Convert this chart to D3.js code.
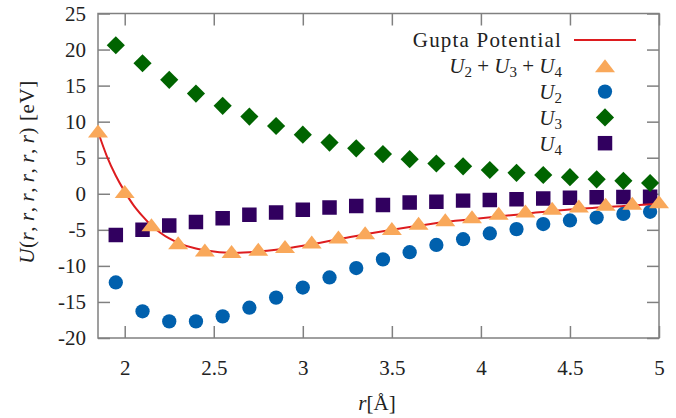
<!DOCTYPE html>
<html>
<head>
<meta charset="utf-8">
<script src="https://cdn.jsdelivr.net/npm/d3@7"></script>
<style>
  body { margin: 0; background: #fff; }
  text { font-family: "Liberation Serif", "DejaVu Serif", serif; fill: #222; }
</style>
</head>
<body>
<div id="chart"></div>
<script>
// data
var rPart = [1.95, 2.1, 2.25, 2.4, 2.55, 2.7, 2.85, 3.0, 3.15, 3.3, 3.45, 3.6, 3.75, 3.9, 4.05, 4.2, 4.35, 4.5, 4.65, 4.8, 4.95];
var u2 = [-12.3, -16.3, -17.7, -17.7, -17.0, -15.8, -14.4, -13.0, -11.6, -10.3, -9.1, -8.1, -7.1, -6.3, -5.5, -4.9, -4.2, -3.7, -3.3, -2.8, -2.5];
var u3 = [20.6, 18.1, 15.8, 13.9, 12.2, 10.7, 9.4, 8.2, 7.1, 6.3, 5.5, 4.8, 4.2, 3.8, 3.3, 2.9, 2.6, 2.3, 2.0, 1.8, 1.5];
var u4 = [-5.7, -5.0, -4.4, -3.9, -3.4, -2.9, -2.6, -2.2, -1.9, -1.7, -1.55, -1.2, -1.1, -0.95, -0.86, -0.77, -0.67, -0.54, -0.49, -0.44, -0.4];

var rSum = [1.85, 2.0, 2.15, 2.3, 2.45, 2.6, 2.75, 2.9, 3.05, 3.2, 3.35, 3.5, 3.65, 3.8, 3.95, 4.1, 4.25, 4.4, 4.55, 4.7, 4.85, 5.0];
var uSum = [8.7, 0.3, -4.3, -6.8, -7.8, -8.0, -7.7, -7.3, -6.7, -6.0, -5.4, -4.8, -4.1, -3.6, -3.2, -2.7, -2.4, -2.0, -1.7, -1.46, -1.3, -1.1];

var rGupta = [1.85, 1.9, 1.95, 2.0, 2.05, 2.1, 2.15, 2.2, 2.25, 2.3, 2.4, 2.5, 2.6, 2.7, 2.8, 2.9, 3.0, 3.2, 3.4, 3.6, 3.8, 4.0, 4.2, 4.4, 4.6, 4.8, 5.0];
var uGupta = [8.6, 5.2, 2.5, 0.3, -1.6, -3.1, -4.4, -5.4, -6.2, -6.8, -7.6, -8.0, -8.2, -8.1, -7.9, -7.6, -7.2, -6.3, -5.4, -4.6, -3.9, -3.4, -2.9, -2.4, -2.0, -1.7, -1.4];

var xTicks = [2, 2.5, 3, 3.5, 4, 4.5, 5];
var yTicks = [-20, -15, -10, -5, 0, 5, 10, 15, 20, 25];

var AXIS_COLOR = '#808080';
var GUPTA_COLOR = '#dd1c1f';
var SUM_COLOR = '#f9a85a';
var U2_COLOR = '#0060ad';
var U3_COLOR = '#006400';
var U4_COLOR = '#31005f';
var FONT = "21px";

var width = 676, height = 418;
var plot = { left: 98, right: 659, top: 13.5, bottom: 338 };

var svg = d3.select("#chart").append("svg")
  .attr("width", width)
  .attr("height", height);

var x = d3.scaleLinear().domain([1.85, 5]).range([plot.left, plot.right]);
var y = d3.scaleLinear().domain([-20, 25]).range([plot.bottom, plot.top]);

// flat triangle like gnuplot's
var flatTriangle = {
  draw: function(ctx, size) {
    ctx.moveTo(0, -6.5);
    ctx.lineTo(10, 6.5);
    ctx.lineTo(-10, 6.5);
    ctx.closePath();
  }
};

// plain hyphen for negatives, like the original
var fmt = function(d) { return String(d); };

// axes, ticks point inward
function styleAxis(g) {
  g.select(".domain").remove();
  g.selectAll(".tick line").attr("stroke", AXIS_COLOR).attr("stroke-width", 1.5);
  g.selectAll(".tick text").attr("font-size", FONT).attr("fill", "#222")
    .attr("font-family", "Liberation Serif, serif");
}

svg.append("g")
  .attr("transform", `translate(0,${plot.bottom})`)
  .call(d3.axisBottom(x).tickValues(xTicks).tickSizeInner(-12).tickSizeOuter(0).tickPadding(22).tickFormat(fmt))
  .call(styleAxis);

svg.append("g")
  .attr("transform", `translate(0,${plot.top})`)
  .call(d3.axisTop(x).tickValues(xTicks).tickSizeInner(-12).tickSizeOuter(0).tickFormat(""))
  .call(styleAxis);

svg.append("g")
  .attr("transform", `translate(${plot.left},0)`)
  .call(d3.axisLeft(y).tickValues(yTicks).tickSizeInner(-12).tickSizeOuter(0).tickPadding(12).tickFormat(fmt))
  .call(styleAxis);

svg.append("g")
  .attr("transform", `translate(${plot.right},0)`)
  .call(d3.axisRight(y).tickValues(yTicks).tickSizeInner(-12).tickSizeOuter(0).tickFormat(""))
  .call(styleAxis);

svg.append("rect")
  .attr("x", plot.left).attr("y", plot.top)
  .attr("width", plot.right - plot.left).attr("height", plot.bottom - plot.top)
  .attr("fill", "none").attr("stroke", AXIS_COLOR).attr("stroke-width", 1.5);

svg.append("defs").append("clipPath").attr("id", "clip")
  .append("rect")
  .attr("x", plot.left - 12).attr("y", plot.top)
  .attr("width", plot.right - plot.left + 24).attr("height", plot.bottom - plot.top);

var marks = svg.append("g").attr("clip-path", "url(#clip)");

// U4 squares
marks.append("g").selectAll("path")
  .data(rPart.map((r, i) => [r, u4[i]]))
  .enter().append("path")
  .attr("transform", d => `translate(${x(d[0])},${y(d[1])})`)
  .attr("d", d3.symbol(d3.symbolSquare, 210))
  .attr("fill", U4_COLOR);

// U3 diamonds
marks.append("g").selectAll("path")
  .data(rPart.map((r, i) => [r, u3[i]]))
  .enter().append("path")
  .attr("transform", d => `translate(${x(d[0])},${y(d[1])}) rotate(45)`)
  .attr("d", d3.symbol(d3.symbolSquare, 165))
  .attr("fill", U3_COLOR);

// U2 circles
marks.append("g").selectAll("path")
  .data(rPart.map((r, i) => [r, u2[i]]))
  .enter().append("path")
  .attr("transform", d => `translate(${x(d[0])},${y(d[1])})`)
  .attr("d", d3.symbol(d3.symbolCircle, 160))
  .attr("fill", U2_COLOR);

// Gupta line
var line = d3.line()
  .x(d => x(d[0]))
  .y(d => y(d[1]))
  .curve(d3.curveMonotoneX);

marks.append("path")
  .datum(rGupta.map((r, i) => [r, uGupta[i]]))
  .attr("d", line)
  .attr("fill", "none")
  .attr("stroke", GUPTA_COLOR)
  .attr("stroke-width", 2);

// U2+U3+U4 triangles
marks.append("g").selectAll("path")
  .data(rSum.map((r, i) => [r, uSum[i]]))
  .enter().append("path")
  .attr("transform", d => `translate(${x(d[0])},${y(d[1])})`)
  .attr("d", d3.symbol(flatTriangle))
  .attr("fill", SUM_COLOR);

// legend
var legendX = 562, legendMarkX = 605, legendY0 = 40, legendStep = 25.8;
var legend = svg.append("g").attr("font-size", FONT);

function addMath(t, parts) {
  parts.forEach(function(p) {
    var ts = t.append("tspan").text(p.t);
    if (p.i) ts.attr("font-style", "italic");
    if (p.sub) ts.attr("font-size", "15px").attr("baseline-shift", "-4px");
  });
}

legend.append("text")
  .attr("x", legendX).attr("y", legendY0).attr("dy", "0.35em")
  .attr("text-anchor", "end").attr("letter-spacing", "1.2px")
  .text("Gupta Potential");
legend.append("line")
  .attr("x1", 574).attr("x2", 636)
  .attr("y1", legendY0).attr("y2", legendY0)
  .attr("stroke", GUPTA_COLOR).attr("stroke-width", 2);

var t1 = legend.append("text").attr("x", legendX).attr("y", legendY0 + legendStep).attr("dy", "0.35em").attr("text-anchor", "end");
addMath(t1, [{t: "U", i: true}, {t: "2", sub: true}, {t: " + "}, {t: "U", i: true}, {t: "3", sub: true}, {t: " + "}, {t: "U", i: true}, {t: "4", sub: true}]);
legend.append("path")
  .attr("transform", `translate(${legendMarkX},${legendY0 + legendStep})`)
  .attr("d", d3.symbol(flatTriangle)).attr("fill", SUM_COLOR);

var t2 = legend.append("text").attr("x", legendX).attr("y", legendY0 + 2 * legendStep).attr("dy", "0.35em").attr("text-anchor", "end");
addMath(t2, [{t: "U", i: true}, {t: "2", sub: true}]);
legend.append("path")
  .attr("transform", `translate(${legendMarkX},${legendY0 + 2 * legendStep})`)
  .attr("d", d3.symbol(d3.symbolCircle, 160)).attr("fill", U2_COLOR);

var t3 = legend.append("text").attr("x", legendX).attr("y", legendY0 + 3 * legendStep).attr("dy", "0.35em").attr("text-anchor", "end");
addMath(t3, [{t: "U", i: true}, {t: "3", sub: true}]);
legend.append("path")
  .attr("transform", `translate(${legendMarkX},${legendY0 + 3 * legendStep}) rotate(45)`)
  .attr("d", d3.symbol(d3.symbolSquare, 165)).attr("fill", U3_COLOR);

var t4 = legend.append("text").attr("x", legendX).attr("y", legendY0 + 4 * legendStep).attr("dy", "0.35em").attr("text-anchor", "end");
addMath(t4, [{t: "U", i: true}, {t: "4", sub: true}]);
legend.append("path")
  .attr("transform", `translate(${legendMarkX},${legendY0 + 4 * legendStep})`)
  .attr("d", d3.symbol(d3.symbolSquare, 210)).attr("fill", U4_COLOR);

// axis titles
var xt = svg.append("text")
  .attr("x", 377).attr("y", 403).attr("dy", "0.35em")
  .attr("text-anchor", "middle").attr("font-size", FONT);
addMath(xt, [{t: "r", i: true}, {t: "[Å]"}]);

var yt = svg.append("text")
  .attr("transform", "translate(27,172) rotate(-90)")
  .attr("dy", "0.35em")
  .attr("text-anchor", "middle").attr("font-size", FONT)
  .attr("letter-spacing", "0.6px");
addMath(yt, [{t: "U", i: true}, {t: "("}, {t: "r", i: true}, {t: ",\u2009"}, {t: "r", i: true}, {t: ",\u2009"}, {t: "r", i: true}, {t: ",\u2009"}, {t: "r", i: true}, {t: ",\u2009"}, {t: "r", i: true}, {t: ",\u2009"}, {t: "r", i: true}, {t: ") [eV]"}]);
</script>
</body>
</html>
